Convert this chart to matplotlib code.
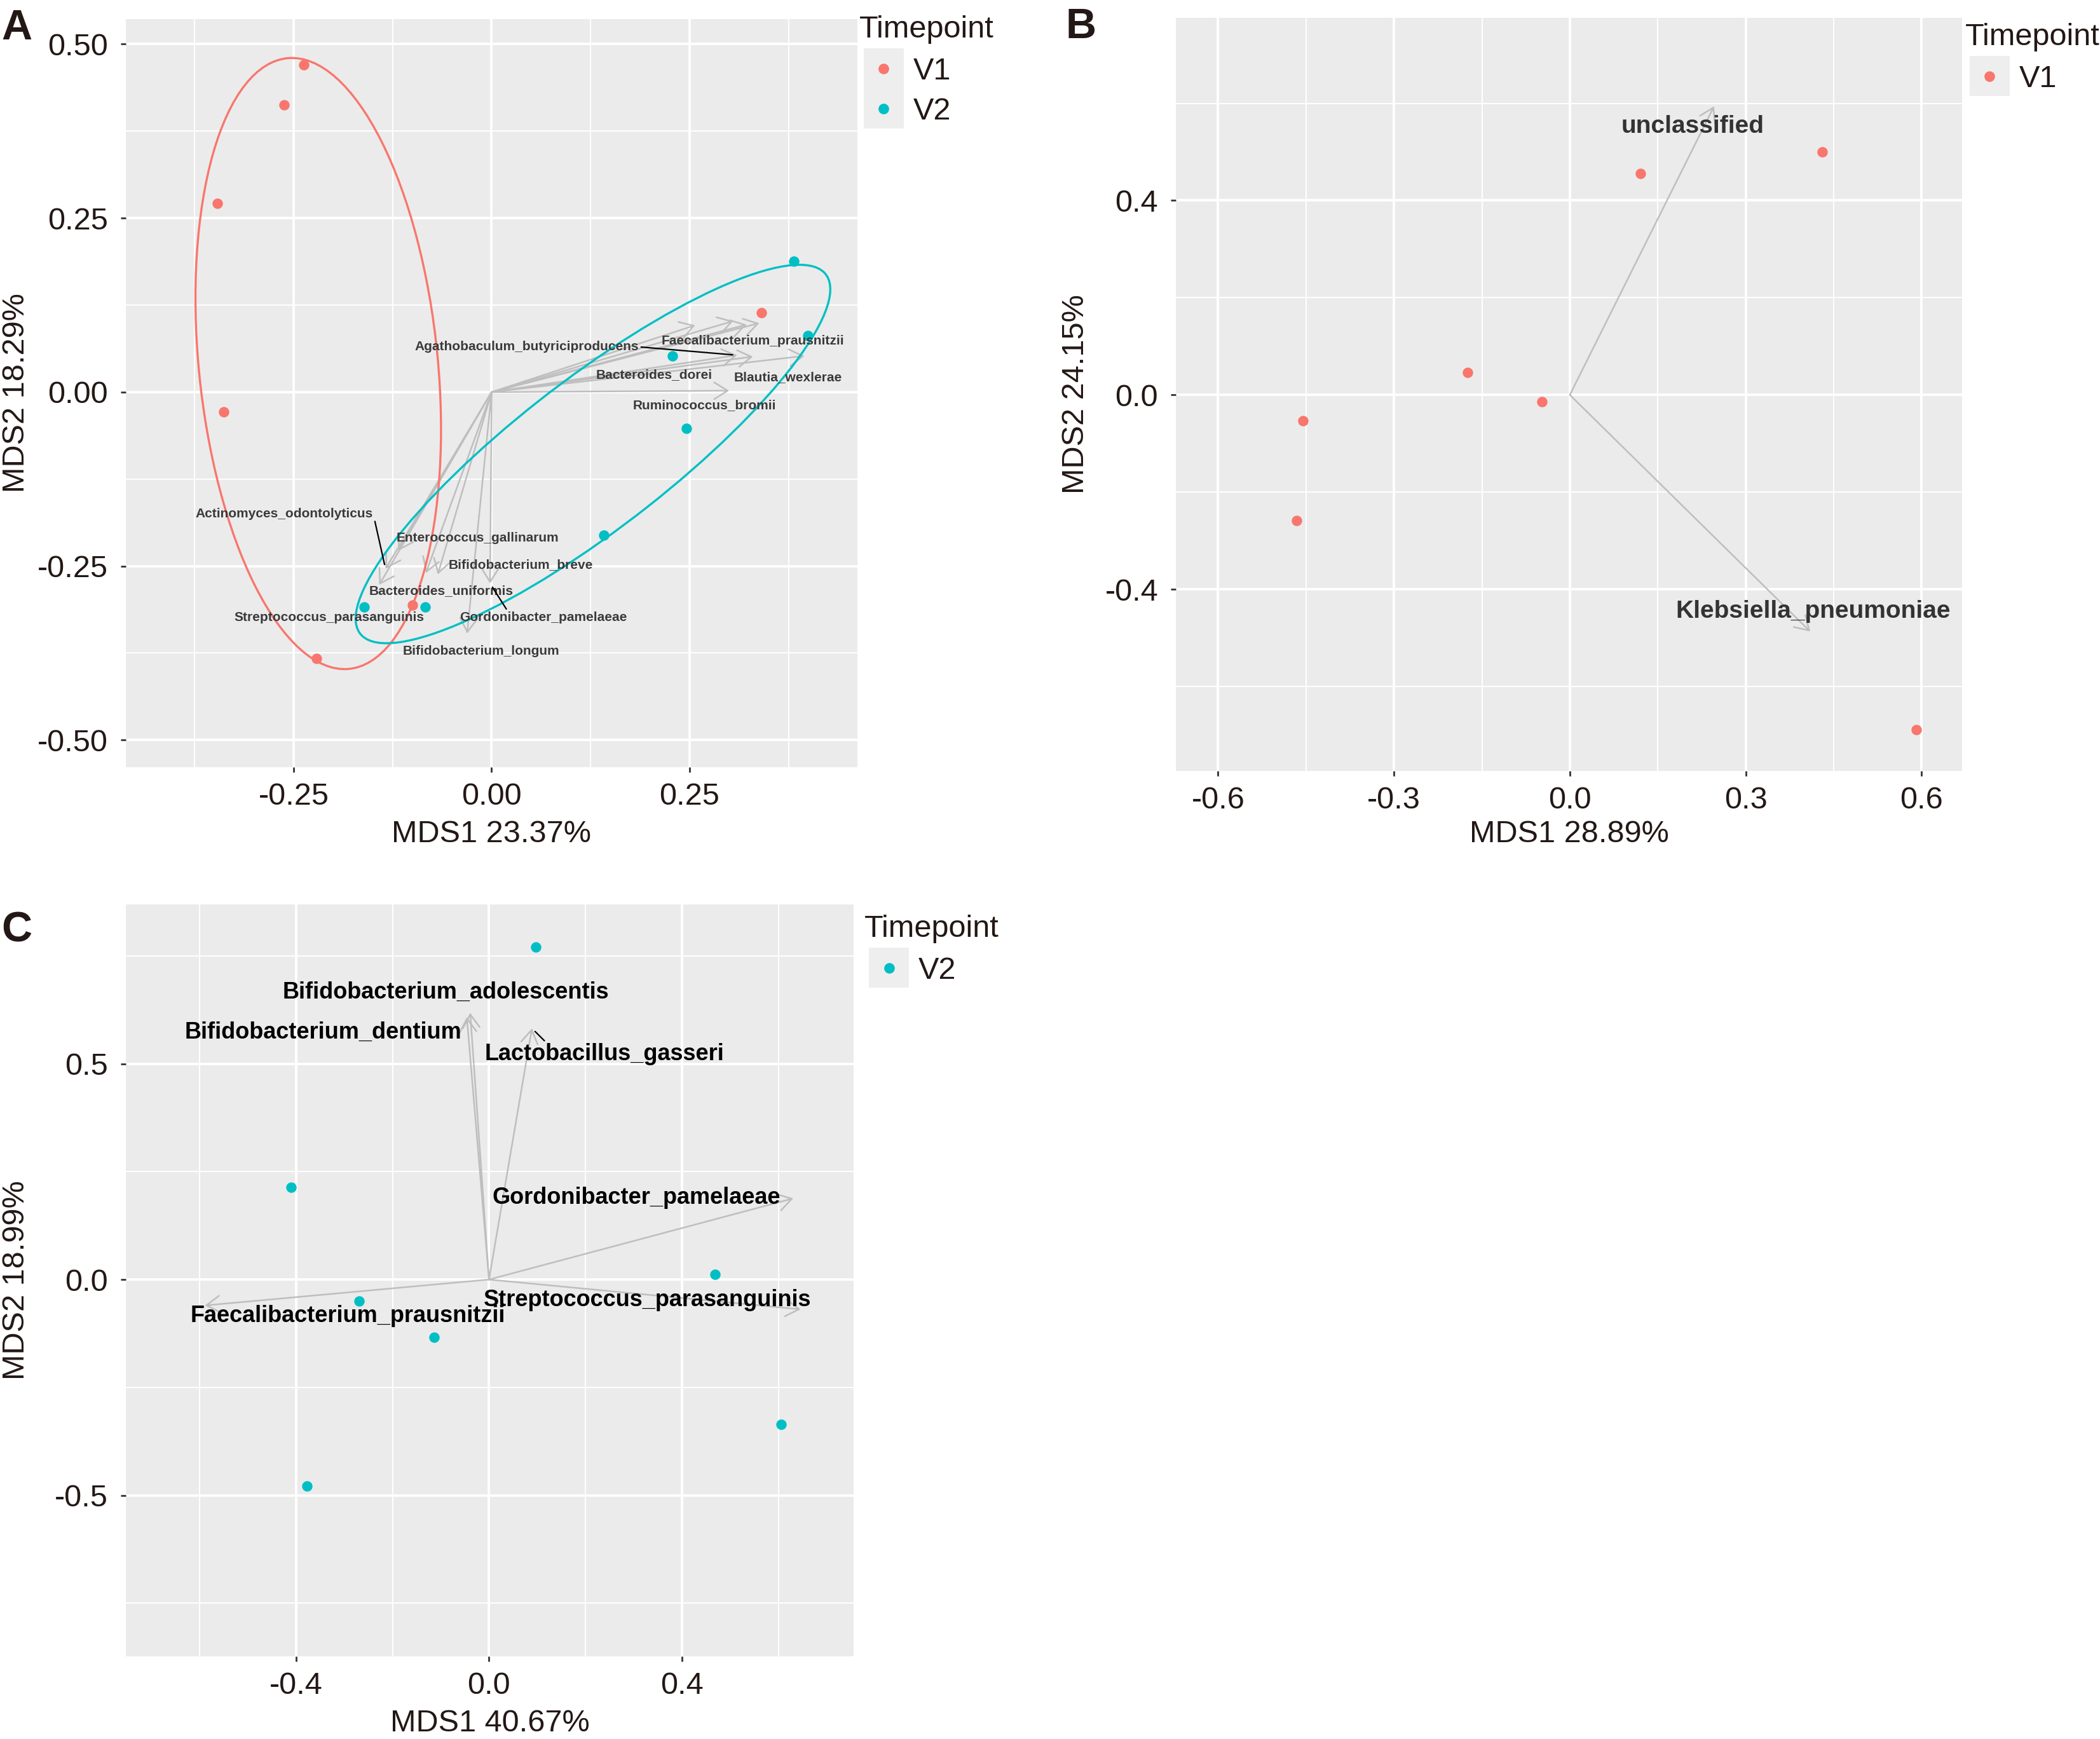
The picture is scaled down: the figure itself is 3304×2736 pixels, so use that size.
import matplotlib
matplotlib.use("Agg")
import matplotlib.pyplot as plt
from matplotlib.lines import Line2D
from matplotlib.patches import Ellipse, Rectangle

W, H = 3305, 2736

# ---- panel A data (Timepoint V1 + V2) ----
A_V1_X = [-0.237, -0.262, -0.346, -0.338, -0.221, -0.100, 0.341]
A_V1_Y = [0.470, 0.413, 0.271, -0.028, -0.383, -0.306, 0.114]
A_V2_X = [0.382, 0.399, 0.228, 0.246, 0.142, -0.084, -0.161]
A_V2_Y = [0.188, 0.081, 0.052, -0.052, -0.206, -0.309, -0.309]

# group ellipses: centre x, centre y, width, height, angle (deg)
A_V1_ELLIPSE = (-0.219, 0.041, 0.881, 0.302, 94.9)
A_V2_ELLIPSE = (0.128, -0.089, 0.783, 0.205, 41.8)

A_SPECIES = ["Faecalibacterium_prausnitzii", "Agathobaculum_butyriciproducens",
             "Bacteroides_dorei", "Blautia_wexlerae", "Ruminococcus_bromii",
             "", "", "",
             "Actinomyces_odontolyticus", "Enterococcus_gallinarum",
             "Bacteroides_uniformis", "Streptococcus_parasanguinis",
             "Bifidobacterium_breve", "Gordonibacter_pamelaeae", "Bifidobacterium_longum"]
A_ARROW_X = [0.338, 0.310, 0.330, 0.395, 0.300, 0.257, 0.305, 0.322,
             -0.134, -0.118, -0.142, -0.083, -0.068, -0.002, -0.031]
A_ARROW_Y = [0.099, 0.053, 0.051, 0.052, 0.002, 0.096, 0.102, 0.097,
             -0.254, -0.228, -0.277, -0.260, -0.262, -0.275, -0.347]

# ---- panel B data (Timepoint V1) ----
B_V1_X = [0.121, 0.430, -0.174, -0.048, -0.455, -0.466, 0.591]
B_V1_Y = [0.456, 0.500, 0.046, -0.014, -0.053, -0.258, -0.689]
B_SPECIES = ["unclassified", "Klebsiella_pneumoniae"]
B_ARROW_X = [0.246, 0.410]
B_ARROW_Y = [0.594, -0.487]

# ---- panel C data (Timepoint V2) ----
C_V2_X = [0.097, -0.411, 0.469, -0.269, -0.114, 0.606, -0.378]
C_V2_Y = [0.770, 0.214, 0.012, -0.050, -0.134, -0.335, -0.478]
C_SPECIES = ["Bifidobacterium_adolescentis", "Bifidobacterium_dentium",
             "Lactobacillus_gasseri", "Gordonibacter_pamelaeae",
             "Streptococcus_parasanguinis", "Faecalibacterium_prausnitzii"]
C_ARROW_X = [-0.039, -0.046, 0.089, 0.631, 0.646, -0.589]
C_ARROW_Y = [0.618, 0.608, 0.582, 0.188, -0.069, -0.060]

# ---- axis text ----
A_XTICKS = [-0.25, 0.0, 0.25]
A_XLABELS = ["-0.25", "0.00", "0.25"]
A_YTICKS = [-0.5, -0.25, 0.0, 0.25, 0.5]
A_YLABELS = ["-0.50", "-0.25", "0.00", "0.25", "0.50"]
B_XTICKS = [-0.6, -0.3, 0.0, 0.3, 0.6]
B_XLABELS = ["-0.6", "-0.3", "0.0", "0.3", "0.6"]
B_YTICKS = [-0.4, 0.0, 0.4]
B_YLABELS = ["-0.4", "0.0", "0.4"]
C_XTICKS = [-0.4, 0.0, 0.4]
C_XLABELS = ["-0.4", "0.0", "0.4"]
C_YTICKS = [-0.5, 0.0, 0.5]
C_YLABELS = ["-0.5", "0.0", "0.5"]

# label placement (what ggrepel settled on), kept apart from the data
LABEL_POS_A = {
    "Agathobaculum_butyriciproducens": (0.044, 0.065),
    "Faecalibacterium_prausnitzii": (0.330, 0.073),
    "Bacteroides_dorei": (0.205, 0.025),
    "Blautia_wexlerae": (0.374, 0.021),
    "Ruminococcus_bromii": (0.269, -0.019),
    "Actinomyces_odontolyticus": (-0.262, -0.175),
    "Enterococcus_gallinarum": (-0.018, -0.210),
    "Bifidobacterium_breve": (0.037, -0.248),
    "Bacteroides_uniformis": (-0.064, -0.286),
    "Streptococcus_parasanguinis": (-0.205, -0.324),
    "Gordonibacter_pamelaeae": (0.065, -0.324),
    "Bifidobacterium_longum": (-0.013, -0.372),
}
SEGMENT_A = {"Agathobaculum_butyriciproducens": (1.0, 0.5),
             "Actinomyces_odontolyticus": (1.0, 0.6),
             "Gordonibacter_pamelaeae": (0.29, 1.0)}
LABEL_POS_B = {"unclassified": (0.210, 0.552),
               "Klebsiella_pneumoniae": (0.415, -0.446)}
LABEL_POS_C = {
    "Bifidobacterium_adolescentis": (-0.089, 0.665),
    "Bifidobacterium_dentium": (-0.344, 0.572),
    "Lactobacillus_gasseri": (0.239, 0.522),
    "Gordonibacter_pamelaeae": (0.305, 0.189),
    "Streptococcus_parasanguinis": (0.328, -0.047),
    "Faecalibacterium_prausnitzii": (-0.292, -0.084),
}
SEGMENT_C = {"Lactobacillus_gasseri": (0.26, 1.0)}

RED = "#F8766D"
CYAN = "#00BFC4"
PANEL_BG = "#EBEBEB"
ARROW_GREY = "#BEBEBE"
INK = "#231815"
FS = 35

plt.rcParams["font.family"] = ["Liberation Sans", "DejaVu Sans"]


def px_axes(fig, left, top, right, bottom):
    return fig.add_axes([left / W, 1 - bottom / H, (right - left) / W, (bottom - top) / H])


def style_axes(ax, xlim, ylim, xticks, xlabels, yticks, ylabels, xminor, yminor,
               xtitle, ytitle, xtitle_y, ytitle_x):
    ax.set_facecolor(PANEL_BG)
    ax.set_xlim(*xlim)
    ax.set_ylim(*ylim)
    ax.set_xticks(xticks)
    ax.set_xticklabels(xlabels)
    ax.set_yticks(yticks)
    ax.set_yticklabels(ylabels)
    ax.set_xticks(xminor, minor=True)
    ax.set_yticks(yminor, minor=True)
    ax.grid(which="major", color="white", lw=2.8)
    ax.grid(which="minor", color="white", lw=1.4)
    ax.set_axisbelow(True)
    for s in ax.spines.values():
        s.set_visible(False)
    ax.tick_params(which="major", length=6, width=2, color="#333333",
                   labelsize=FS, labelcolor=INK)
    ax.tick_params(axis="x", which="major", pad=11)
    ax.tick_params(axis="y", which="major", pad=14)
    ax.tick_params(which="minor", length=0)
    ax.set_xlabel(xtitle, fontsize=FS, color=INK)
    ax.set_ylabel(ytitle, fontsize=FS, color=INK)
    ax.xaxis.set_label_coords(0.5, xtitle_y)
    ax.yaxis.set_label_coords(ytitle_x, 0.5)
    ax.xaxis.label.set_va("center")
    ax.yaxis.label.set_va("center")


def draw_arrows(ax, xs, ys):
    for x, y in zip(xs, ys):
        ax.annotate("", xy=(x, y), xytext=(0, 0),
                    arrowprops=dict(arrowstyle="->,head_length=0.4,head_width=0.25",
                                    color=ARROW_GREY, lw=1.8, shrinkA=0, shrinkB=0,
                                    mutation_scale=38),
                    zorder=2)


def draw_labels(ax, names, xs, ys, pos, segments, size, color):
    for name, x, y in zip(names, xs, ys):
        if not name:
            continue
        lx, ly = pos[name]
        kw = dict(ha="center", va="center", fontsize=size, fontweight="bold",
                  color=color, zorder=5)
        if name in segments:
            ax.annotate(name, xy=(x, y), xytext=(lx, ly),
                        arrowprops=dict(arrowstyle="-", color="black", lw=1.6,
                                        shrinkA=1, shrinkB=5, relpos=segments[name]),
                        **kw)
        else:
            ax.text(lx, ly, name, **kw)


def draw_ellipse(ax, params, color):
    cx, cy, width, height, angle = params
    ax.add_patch(Ellipse((cx, cy), width, height, angle=angle, fill=False,
                         ec=color, lw=2.4, zorder=4))


def draw_legend(fig, left, baseline, labels, colors):
    fig.text(left / W, 1 - baseline / H, "Timepoint", fontsize=FS, color=INK, va="baseline")
    key_left, key_top, key = left + 7, baseline + 17, 63
    for i, (lab, col) in enumerate(zip(labels, colors)):
        top = key_top + i * key
        fig.add_artist(Rectangle((key_left / W, 1 - (top + key) / H), key / W, key / H,
                                 transform=fig.transFigure, fc="#EEEEEE", ec="none"))
        cy = top + key / 2
        fig.add_artist(Line2D([(key_left + key / 2) / W], [1 - cy / H], marker="o",
                              ms=12, color=col, mec="none", transform=fig.transFigure))
        fig.text((key_left + key + 15) / W, 1 - cy / H, lab, fontsize=FS, color=INK,
                 va="center_baseline")


fig = plt.figure(figsize=(W / 100, H / 100), dpi=100)

# ---------- A ----------
axA = px_axes(fig, 198, 30, 1349, 1207)
style_axes(axA, (-0.462, 0.462), (-0.539, 0.536), A_XTICKS, A_XLABELS, A_YTICKS, A_YLABELS,
           [-0.375, -0.125, 0.125, 0.375], [-0.375, -0.125, 0.125, 0.375],
           "MDS1 23.37%", "MDS2 18.29%", -0.090, -0.150)
draw_arrows(axA, A_ARROW_X, A_ARROW_Y)
axA.scatter(A_V1_X, A_V1_Y, s=140, color=RED, linewidths=0, zorder=3)
axA.scatter(A_V2_X, A_V2_Y, s=140, color=CYAN, linewidths=0, zorder=3)
draw_ellipse(axA, A_V1_ELLIPSE, RED)
draw_ellipse(axA, A_V2_ELLIPSE, CYAN)
draw_labels(axA, A_SPECIES, A_ARROW_X, A_ARROW_Y, LABEL_POS_A, SEGMENT_A, 15, "#3A3A3A")
draw_legend(fig, 1352, 59, ["V1", "V2"], [RED, CYAN])

# ---------- B ----------
axB = px_axes(fig, 1850, 28, 3087, 1213)
style_axes(axB, (-0.672, 0.669), (-0.774, 0.776), B_XTICKS, B_XLABELS, B_YTICKS, B_YLABELS,
           [-0.45, -0.15, 0.15, 0.45], [-0.6, -0.2, 0.2, 0.6],
           "MDS1 28.89%", "MDS2 24.15%", -0.084, -0.127)
draw_arrows(axB, B_ARROW_X, B_ARROW_Y)
axB.scatter(B_V1_X, B_V1_Y, s=140, color=RED, linewidths=0, zorder=3)
draw_labels(axB, B_SPECIES, B_ARROW_X, B_ARROW_Y, LABEL_POS_B, {}, 28, "#333333")
draw_legend(fig, 3092, 71, ["V1"], [RED])

# ---------- C ----------
axC = px_axes(fig, 198, 1423, 1343, 2606)
style_axes(axC, (-0.753, 0.756), (-0.873, 0.869), C_XTICKS, C_XLABELS, C_YTICKS, C_YLABELS,
           [-0.6, -0.2, 0.2, 0.6], [-0.75, -0.25, 0.25, 0.75],
           "MDS1 40.67%", "MDS2 18.99%", -0.089, -0.151)
draw_arrows(axC, C_ARROW_X, C_ARROW_Y)
axC.scatter(C_V2_X, C_V2_Y, s=140, color=CYAN, linewidths=0, zorder=3)
draw_labels(axC, C_SPECIES, C_ARROW_X, C_ARROW_Y, LABEL_POS_C, SEGMENT_C, 26, "black")
draw_legend(fig, 1360, 1474, ["V2"], [CYAN])

# panel letters
for letter, left, baseline in [("A", 2, 62), ("B", 1677, 60), ("C", 2, 1482)]:
    fig.text(left / W, 1 - baseline / H, letter, fontsize=48, fontweight="bold",
             color=INK, va="baseline")

fig.savefig("out.png", dpi=100)
